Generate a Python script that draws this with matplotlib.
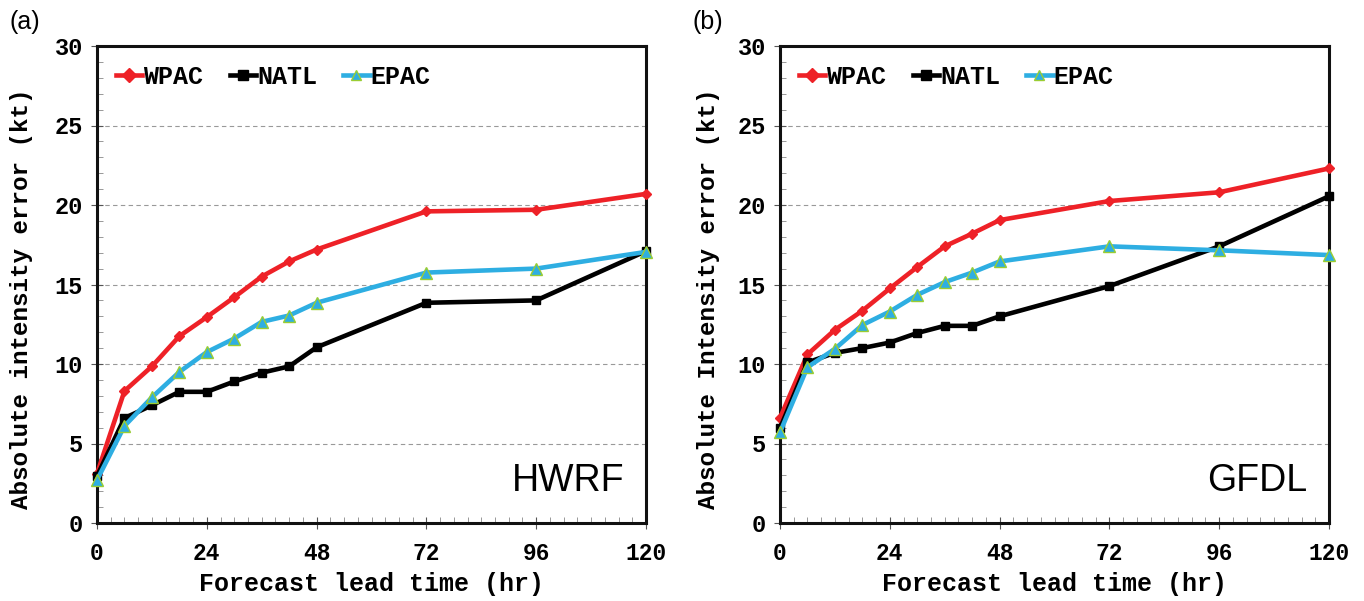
import matplotlib
matplotlib.use("Agg")
import matplotlib.pyplot as plt
from matplotlib.ticker import MultipleLocator

lead_hours = [0, 6, 12, 18, 24, 30, 36, 42, 48, 72, 96, 120]

hwrf_wpac = [3.1, 8.3, 9.85, 11.75, 12.95, 14.2, 15.5, 16.45, 17.2, 19.6, 19.7, 20.7]
hwrf_natl = [2.95, 6.6, 7.4, 8.25, 8.25, 8.9, 9.45, 9.85, 11.05, 13.85, 14.0, 17.1]
hwrf_epac = [2.7, 6.1, 7.9, 9.5, 10.75, 11.6, 12.65, 13.05, 13.85, 15.75, 16.0, 17.05]

gfdl_wpac = [6.6, 10.6, 12.15, 13.35, 14.75, 16.1, 17.4, 18.2, 19.05, 20.25, 20.8, 22.3]
gfdl_natl = [5.95, 10.1, 10.7, 11.0, 11.35, 11.95, 12.4, 12.4, 13.0, 14.9, 17.4, 20.55]
gfdl_epac = [5.7, 9.8, 10.95, 12.45, 13.3, 14.35, 15.15, 15.75, 16.45, 17.4, 17.15, 16.85]

xticks = [0, 24, 48, 72, 96, 120]
yticks = [0, 5, 10, 15, 20, 25, 30]
series_names = ["WPAC", "NATL", "EPAC"]
panels = [("(a)", "HWRF", "Absolute intensity error (kt)", [hwrf_wpac, hwrf_natl, hwrf_epac]),
          ("(b)", "GFDL", "Absolute Intensity error (kt)", [gfdl_wpac, gfdl_natl, gfdl_epac])]

mono = "Liberation Mono"
sans = "Liberation Sans"

fig = plt.figure(figsize=(13.64, 6.01), dpi=100)
lefts = [97 / 1364, 780 / 1364]
W = 549 / 1364
B = 78 / 601
H = 477 / 601
ylabel_x = [-0.137, -0.131]

styles = [
    dict(color="#ee2127", marker="D", markersize=5.5, markerfacecolor="#ee2127", markeredgecolor="#ee2127"),
    dict(color="#000000", marker="s", markersize=5.5, markerfacecolor="#000000", markeredgecolor="#000000"),
    dict(color="#2eaee2", marker="^", markersize=8.5, markerfacecolor="#2eaee2", markeredgecolor="#9acd32", markeredgewidth=1.0),
]

for i, (plabel, model, ylab, data) in enumerate(panels):
    ax = fig.add_axes([lefts[i], B, W, H])
    for name, vals, st in zip(series_names, data, styles):
        ax.plot(lead_hours, vals, linewidth=3.3, label=name, clip_on=False, zorder=3, **st)
    ax.set_xlim(0, 120)
    ax.set_ylim(0, 30)
    ax.set_xticks(xticks)
    ax.set_yticks(yticks)
    ax.xaxis.set_minor_locator(MultipleLocator(3))
    ax.yaxis.set_minor_locator(MultipleLocator(1))
    ax.tick_params(which="major", direction="inout", length=8, width=0.8, color="#555555")
    ax.tick_params(which="minor", direction="in", length=4, width=0.6, color="#888888")
    ax.tick_params(axis="x", labelsize=16.5, pad=10)
    ax.tick_params(axis="y", labelsize=17, pad=6)
    for lab in ax.get_xticklabels() + ax.get_yticklabels():
        lab.set_fontfamily(mono)
        lab.set_fontweight("bold")
    ax.grid(axis="y", which="major", linestyle=(0, (4, 3)), color="#999999", linewidth=0.8)
    for sp in ax.spines.values():
        sp.set_linewidth(2.2)
        sp.set_color("#111111")
    ax.set_xlabel("Forecast lead time (hr)", fontfamily=mono, fontweight="bold", fontsize=18)
    ax.xaxis.set_label_coords(0.5, -0.103)
    ax.set_ylabel(ylab, fontfamily=mono, fontweight="bold", fontsize=17.5)
    ax.yaxis.set_label_coords(ylabel_x[i], 0.47)
    ax.yaxis.label.set_va("center")
    leg = ax.legend(loc="upper left", ncol=3, frameon=False, handlelength=1.05, handletextpad=0.05,
                    columnspacing=1.05, bbox_to_anchor=(0.0, 1.0), borderaxespad=0.35,
                    prop=dict(family=mono, weight="bold", size=18))
    for h in leg.legend_handles:
        h.set_markersize(7)
    ax.text(0.96, 0.05, model, transform=ax.transAxes, ha="right", va="bottom",
            fontfamily=sans, fontsize=27)
    fig.text(lefts[i] - 88 / 1364, 1 - 34 / 601, plabel, fontfamily=sans, fontsize=18,
             ha="left", va="bottom")

fig.savefig("out.png", dpi=100)
